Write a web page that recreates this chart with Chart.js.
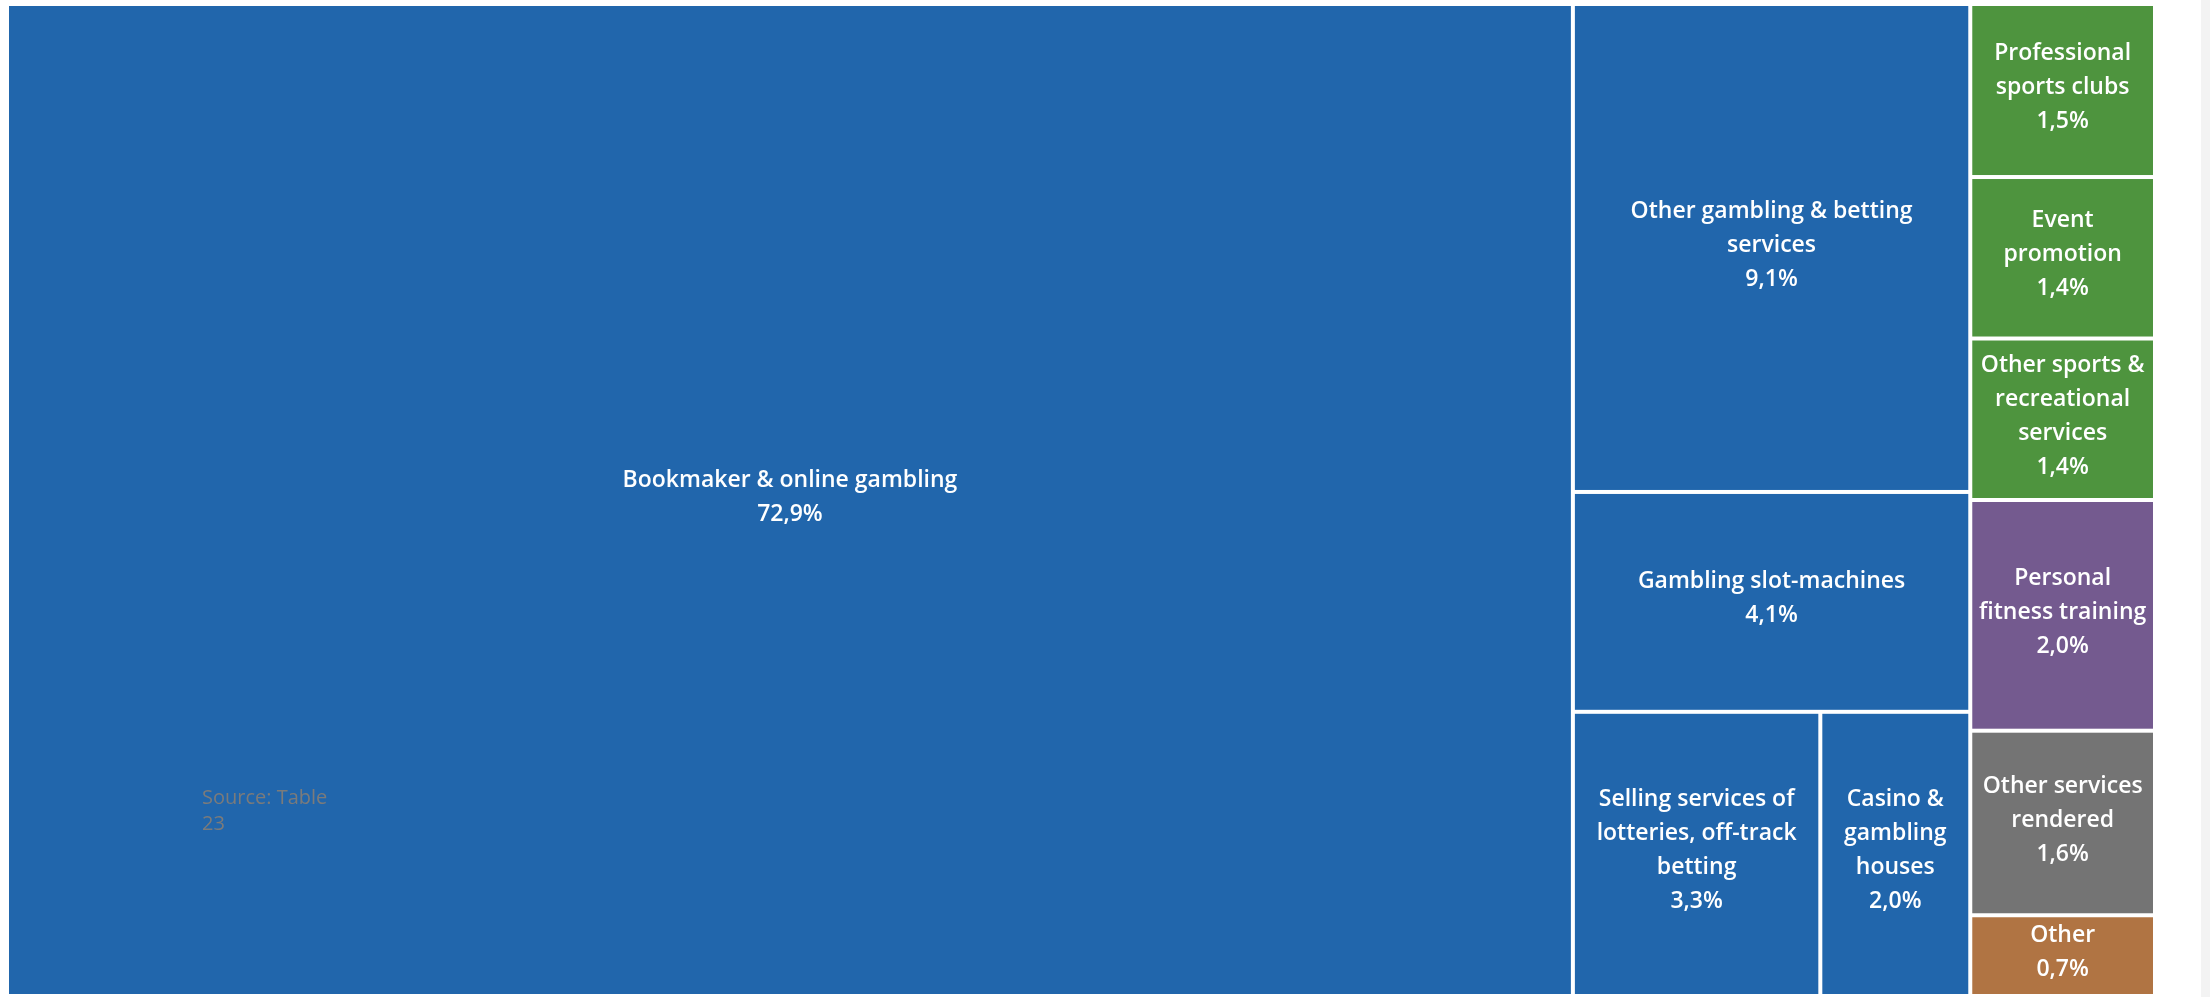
<!DOCTYPE html>
<html>
<head>
<meta charset="utf-8">
<script src="https://cdn.jsdelivr.net/npm/chart.js@4/dist/chart.umd.min.js"></script>
<style>
  html, body { margin: 0; padding: 0; background: #fff; overflow: hidden; }
  #wrap { position: relative; width: 2210px; height: 997px; }
  #scroll { position: absolute; right: 0; top: 0; width: 9px; height: 997px; background: #f3f3f3; }
</style>
</head>
<body>
<div id="wrap">
  <canvas id="myChart" width="2210" height="997"></canvas>
  <div id="scroll"></div>
</div>
<script>
  // cell names (line breaks as wrapped in the report)
  const categories = [
    "Bookmaker & online gambling",
    "Other gambling & betting\nservices",
    "Gambling slot-machines",
    "Selling services of\nlotteries, off-track\nbetting",
    "Casino &\ngambling\nhouses",
    "Professional\nsports clubs",
    "Event\npromotion",
    "Other sports &\nrecreational\nservices",
    "Personal\nfitness training",
    "Other services\nrendered",
    "Other",
  ];
  // share of total, %
  const shares = [72.9, 9.1, 4.1, 3.3, 2.0, 1.5, 1.4, 1.4, 2.0, 1.6, 0.7];
  // colour group of each cell
  const groups = ["gambling", "gambling", "gambling", "gambling", "gambling",
    "sports", "sports", "sports", "fitness", "services", "other"];

  const groupColors = {
    gambling: "#2166ac",
    sports: "#4e943e",
    fitness: "#745a8f",
    services: "#747474",
    other: "#b07443",
  };

  // tiling of the report: columns, each a stack of rows of cell indexes
  // (column width and row height follow the shares)
  const columns = [
    [[0]],
    [[1], [2], [3, 4]],
    [[5], [6], [7], [8], [9], [10]],
  ];

  const sum = (idx) => idx.reduce((s, i) => s + shares[i], 0);

  // build the cells in scale units (0..100 on both axes)
  function layoutCells() {
    let total = columns.reduce((s, col) => s + col.reduce((t, r) => t + sum(r), 0), 0);
    let cells = [];
    let x = 0;
    columns.forEach((col) => {
      let colTotal = col.reduce((s, r) => s + sum(r), 0);
      let colWidth = (colTotal / total) * 100;
      let y = 0;
      col.forEach((row) => {
        let rowTotal = sum(row);
        let h = (rowTotal / colTotal) * 100;
        let cx = x;
        row.forEach((i) => {
          let w = (shares[i] / rowTotal) * colWidth;
          cells.push({ i: i, x0: cx, x1: cx + w, y0: y, y1: y + h });
          cx += w;
        });
        y += h;
      });
      x += colWidth;
    });
    return cells;
  }

  const treemapPlugin = {
    id: "treemapCells",
    beforeDatasetsDraw(chart) {
      const ctx = chart.ctx;
      const xs = chart.scales.x;
      const ys = chart.scales.y;
      const gap = 2;
      layoutCells().forEach((c) => {
        let left = xs.getPixelForValue(c.x0) + gap;
        let right = xs.getPixelForValue(c.x1) - gap;
        let top = ys.getPixelForValue(c.y0) + gap;
        let bottom = ys.getPixelForValue(c.y1) - gap;
        ctx.save();
        ctx.fillStyle = groupColors[groups[c.i]];
        ctx.fillRect(left, top, right - left, bottom - top);

        // label + value
        let lines = categories[c.i].split("\n");
        lines.push(shares[c.i].toFixed(1).replace(".", ",") + "%");
        let lh = 34;
        let cx = (left + right) / 2;
        let cy = (top + bottom) / 2 - 3;
        ctx.fillStyle = "#ffffff";
        ctx.font = "600 23px 'Open Sans'";
        ctx.textAlign = "center";
        ctx.textBaseline = "middle";
        lines.forEach((t, k) => {
          ctx.fillText(t, cx, cy + (k - (lines.length - 1) / 2) * lh);
        });
        ctx.restore();
      });

      // source note
      ctx.save();
      ctx.fillStyle = "#7b7b7b";
      ctx.font = "400 20px 'Open Sans'";
      ctx.textAlign = "left";
      ctx.textBaseline = "middle";
      ctx.fillText("Source: Table", 202, 798);
      ctx.fillText("23", 202, 824);
      ctx.restore();
    },
  };

  let myChart = new Chart(document.getElementById("myChart"), {
    type: "scatter",
    data: { datasets: [] },
    options: {
      responsive: false,
      animation: false,
      layout: { padding: { left: 7, top: 4, right: 55, bottom: 1 } },
      plugins: { legend: { display: false }, tooltip: { enabled: false } },
      scales: {
        x: { type: "linear", min: 0, max: 100, display: false },
        y: { type: "linear", min: 0, max: 100, reverse: true, display: false },
      },
    },
    plugins: [treemapPlugin],
  });
</script>
</body>
</html>
